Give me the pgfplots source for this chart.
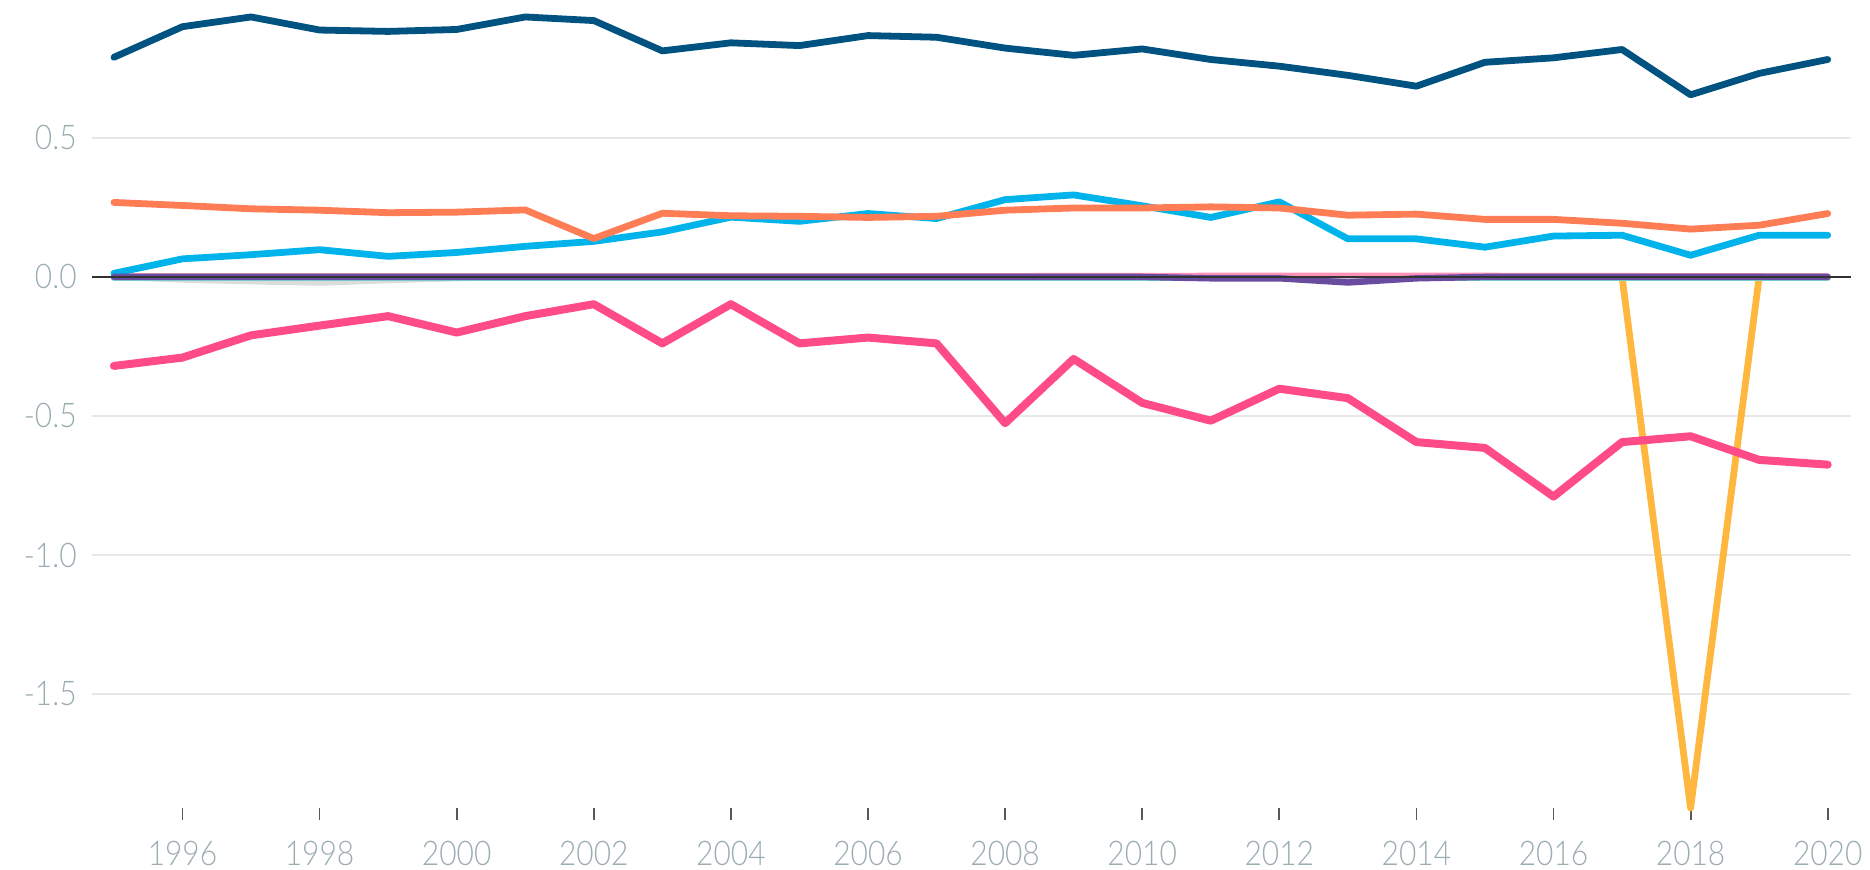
\documentclass[border=0pt]{standalone}
\usepackage{pgfplots}
\pgfplotsset{compat=1.18}
\usepackage{fontspec}
\setmainfont{Lato Light}
\newfontfamily\labelfont[FakeStretch=0.88]{Lato Light}
\definecolor{cnavy}{RGB}{0,82,128}
\definecolor{ccoral}{RGB}{255,125,85}
\definecolor{ccyan}{RGB}{0,180,235}
\definecolor{cpink}{RGB}{255,75,135}
\definecolor{cyellow}{RGB}{255,183,64}
\definecolor{cpurple}{RGB}{105,75,160}
\definecolor{cteal}{RGB}{120,220,210}
\definecolor{cgreyl}{RGB}{220,220,220}
\definecolor{clabel}{RGB}{155,172,178}
\definecolor{cgrid}{RGB}{232,232,232}
\definecolor{czero}{RGB}{50,50,50}
\begin{document}
\begin{tikzpicture}
\begin{axis}[
  scale only axis,
  width=879.5pt, height=404pt,
  xmin=1994.68, xmax=2020.34,
  ymin=-1.91, ymax=0.996,
  clip=false,
  axis line style={draw=none},
  xtick={1996,1998,...,2020},
  xticklabels={1996,1998,2000,2002,2004,2006,2008,2010,2012,2014,2016,2018,2020},
  ytick={-1.5,-1,-0.5,0,0.5},
  yticklabels={-1.5,-1.0,-0.5,0.0,0.5},
  xtick pos=bottom, ytick pos=left,
  tick align=outside,
  major tick length=6pt,
  xtick style={color=black!65, line width=0.9pt},
  ytick style={draw=none},
  ymajorgrids,
  grid style={color=cgrid, line width=1pt},
  tick label style={font=\labelfont\fontsize{17}{20}\selectfont, text=clabel},
  xticklabel style={anchor=base, inner sep=0pt, yshift=-22.5pt},
  yticklabel style={anchor=east, inner sep=0pt, xshift=-1.5pt},
  every axis plot/.append style={line width=3.4pt, line join=round, line cap=round, mark=none},
]
\addplot[cyellow] coordinates {(1995,0) (1996,0) (1997,0) (1998,0) (1999,0) (2000,0) (2001,0) (2002,0) (2003,0) (2004,0) (2005,0) (2006,0) (2007,0) (2008,0) (2009,0) (2010,0) (2011,0) (2012,0) (2013,0) (2014,0) (2015,0) (2016,0) (2017,0) (2018,-1.91) (2019,0) (2020,0)};
\addplot[cgreyl, line width=3pt] coordinates {(1995,0) (1996,-0.01) (1997,-0.016) (1998,-0.021) (1999,-0.012) (2000,-0.005) (2001,0) (2002,0) (2005,0) (2010,0) (2015,0) (2020,0)};
\addplot[cteal, line width=3pt] coordinates {(1995,-0.004) (2000,-0.004) (2005,-0.004) (2010,-0.004) (2015,-0.004) (2020,-0.004)};
\addplot[cpink!60, line width=3pt] coordinates {(1995,0.002) (2005,0.002) (2010,0.004) (2013,0.005) (2016,0.004) (2020,0.002)};
\addplot[ccyan] coordinates {(1995,0.013) (1996,0.065) (1997,0.08) (1998,0.098) (1999,0.074) (2000,0.088) (2001,0.11) (2002,0.128) (2003,0.162) (2004,0.215) (2005,0.2) (2006,0.228) (2007,0.21) (2008,0.278) (2009,0.295) (2010,0.256) (2011,0.214) (2012,0.27) (2013,0.137) (2014,0.137) (2015,0.107) (2016,0.147) (2017,0.15) (2018,0.078) (2019,0.15) (2020,0.15)};
\addplot[ccoral] coordinates {(1995,0.268) (1996,0.257) (1997,0.245) (1998,0.24) (1999,0.231) (2000,0.233) (2001,0.241) (2002,0.138) (2003,0.229) (2004,0.22) (2005,0.218) (2006,0.214) (2007,0.218) (2008,0.24) (2009,0.248) (2010,0.248) (2011,0.252) (2012,0.248) (2013,0.222) (2014,0.226) (2015,0.207) (2016,0.207) (2017,0.193) (2018,0.172) (2019,0.186) (2020,0.228)};
\addplot[cpink, line width=4pt] coordinates {(1995,-0.32) (1996,-0.29) (1997,-0.21) (1998,-0.175) (1999,-0.141) (2000,-0.2) (2001,-0.141) (2002,-0.098) (2003,-0.239) (2004,-0.098) (2005,-0.239) (2006,-0.218) (2007,-0.239) (2008,-0.526) (2009,-0.295) (2010,-0.453) (2011,-0.517) (2012,-0.402) (2013,-0.436) (2014,-0.594) (2015,-0.615) (2016,-0.79) (2017,-0.594) (2018,-0.573) (2019,-0.658) (2020,-0.675)};
\addplot[cnavy] coordinates {(1995,0.79) (1996,0.90) (1997,0.935) (1998,0.888) (1999,0.883) (2000,0.89) (2001,0.935) (2002,0.922) (2003,0.813) (2004,0.842) (2005,0.832) (2006,0.868) (2007,0.862) (2008,0.823) (2009,0.797) (2010,0.82) (2011,0.782) (2012,0.758) (2013,0.725) (2014,0.686) (2015,0.772) (2016,0.788) (2017,0.818) (2018,0.655) (2019,0.732) (2020,0.782)};
\addplot[cpurple, line width=3.2pt] coordinates {(1995,0) (1996,0) (1997,0) (1998,0) (1999,0) (2000,0) (2001,0) (2002,0) (2003,0) (2004,0) (2005,0) (2006,0) (2007,0) (2008,0) (2009,0) (2010,0) (2011,-0.005) (2012,-0.005) (2013,-0.02) (2014,-0.005) (2015,0) (2016,0) (2017,0) (2018,0) (2019,0) (2020,0)};
\addplot[czero, line width=1pt, line cap=butt] coordinates {(1994.68,0) (2020.34,0)};
\coordinate (sw) at (rel axis cs:0,0);
\coordinate (ne) at (rel axis cs:1,1);
\end{axis}
\pgfresetboundingbox
\path[use as bounding box] ([xshift=-46pt,yshift=-30.5pt]sw) rectangle ([xshift=9.5pt]ne);
\end{tikzpicture}
\end{document}
